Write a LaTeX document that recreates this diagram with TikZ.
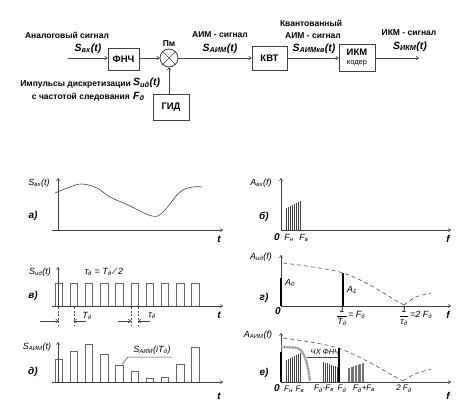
\documentclass[tikz,border=0pt]{standalone}
\usepackage{fontspec}
\setmainfont{Liberation Sans}
\usetikzlibrary{arrows.meta}
\newcommand\sbs[1]{\textsubscript{#1}}
\newcommand\fsym{\fontsize{10.5}{12}\selectfont\bfseries\itshape}
\newcommand\ftxt{\fontsize{8.5}{10}\selectfont\bfseries}
\newcommand\fblk{\fontsize{9.5}{11}\selectfont\bfseries}
\newcommand\fgl{\fontsize{9}{10}\selectfont\itshape}
\newcommand\fglb{\fontsize{8}{9}\selectfont\itshape}
\newcommand\fax{\fontsize{10}{11}\selectfont\bfseries\itshape}
\newcommand\fsm{\fontsize{7.5}{9}\selectfont\itshape}
\begin{document}
\begin{tikzpicture}[x=1pt,y=-1pt,
  blk/.style={draw=black!75, line width=0.8pt, inner sep=0pt, font=\fblk},
  arr/.style={-{To[length=3pt,width=4pt]}, line width=0.6pt, draw=black!75},
  axis/.style={-{To[length=3pt,width=3.5pt]}, line width=0.6pt, draw=black!75},
  pulse/.style={draw=black!60, line width=0.7pt},
  env/.style={draw=black!70, line width=0.6pt, dash pattern=on 4pt off 3pt},
  spec/.style={draw=black, line width=2.2pt},
  hatch/.style={draw=black!75, line width=0.5pt},
  txt/.style={inner sep=0pt, font=\ftxt},
  sym/.style={inner sep=0pt, font=\fsym},
  gl/.style={inner sep=0pt, font=\fgl},
  glb/.style={inner sep=0pt, font=\fglb},
  ax/.style={inner sep=0pt, font=\fax},
  sm/.style={inner sep=0pt, font=\fsm}
]
\useasboundingbox (0,0) rectangle (462,404);

% ---------------- block diagram ----------------
\node[blk, minimum width=31pt, minimum height=22pt] (fnch) at (123.5,59) {ФНЧ};
\node[draw=black!75, line width=0.8pt, circle, minimum size=18pt, inner sep=0pt] (mult) at (169,58) {};
\draw[black!75, line width=0.7pt] (mult.45) -- (mult.225) (mult.135) -- (mult.315);
\node[blk, minimum width=35pt, minimum height=24pt] (kvt) at (269.5,58) {КВТ};
\node[blk, minimum width=36pt, minimum height=27pt, align=center] (ikm) at (357,57.5) {ИКМ\\[-2pt]{\fontsize{7.5}{8}\selectfont\mdseries кодер}};
\node[blk, minimum width=36pt, minimum height=26pt] (gid) at (171,107) {ГИД};
\coordinate (in) at (68,58);
\coordinate (out) at (419,58);

\draw[arr] (in) -- (fnch.west |- in);
\draw[arr] (fnch.east |- mult) -- (mult.west);
\draw[arr] (mult.east) -- (kvt.west |- mult);
\draw[arr] (kvt.east) -- (ikm.west |- kvt.east);
\draw[arr] (ikm.east |- out) -- (out);
\draw[arr] (mult.south |- gid.north) -- (mult.south);

\node[txt] (t1) at (67,35) {Аналоговый сигнал};
\node[sym] (t2) at (88,48.5) {S\sbs{вх}(t)};
\node[txt] (t3) at (169,44) {Пм};
\node[txt] (t4) at (220,35) {АИМ - сигнал};
\node[sym] (t5) at (220,48.5) {S\sbs{АИМ}(t)};
\node[txt] (t6) at (311,23.5) {Квантованный};
\node[txt] (t7) at (313,36) {АИМ - сигнал};
\node[sym] (t8) at (314,48.5) {S\sbs{АИМкв}(t)};
\node[txt] (t9) at (409,33) {ИКМ - сигнал};
\node[sym] (t10) at (410,46.5) {S\sbs{ИКМ}(t)};
\node[txt, anchor=east] (t11) at (131,84) {Импульсы дискретизации};
\node[sym, anchor=west] (t12) at (133,83) {S\sbs{uд}(t)};
\node[txt, anchor=east] (t13) at (130,97) {с частотой следования};
\node[sym, anchor=west] (t14) at (133,96.5) {F\sbs{д}};

% ---------------- graph a) ----------------
\draw[axis] (58,230) -- (58,178);
\draw[axis] (52,230) -- (223,230);
\node[ax] (at) at (219,239) {t};
\node[gl] (aS) at (39,183) {S\sbs{вх}(t)};
\node[ax] (aa) at (33,216) {а)};
\draw[black!75, line width=0.6pt] plot[smooth, tension=0.6] coordinates {(55,193) (70,187) (82,184) (97,188) (110,197) (128,205) (152,216) (163,212) (180,192) (193,187) (202,187)};

% ---------------- graph b) ----------------
\draw[axis] (281,230) -- (281,178);
\draw[axis] (281,230) -- (451,230);
\node[ax] (bf) at (448,239) {f};
\node[gl] (bA) at (261,183) {A\sbs{вх}(f)};
\node[ax] (bb) at (264,217) {б)};
\foreach \i in {0,...,7} \draw[hatch] ({286+2*\i},230) -- ({286+2*\i},{208-\i});
\node[ax] (b0) at (277,237.5) {0};
\node[gl] (bFn) at (289,238) {F\sbs{н}};
\node[gl] (bFv) at (304,238) {F\sbs{в}};

% ---------------- graph v) ----------------
\draw[axis] (58,306) -- (58,267);
\draw[axis] (52,306) -- (223,306);
\node[ax] (vt) at (219,315) {t};
\node[gl] (vS) at (40,272) {S\sbs{uд}(t)};
\node[gl] (vtau) at (104,272) {τ\sbs{д} = T\sbs{д} ⁄ 2};
\node[ax] (vv) at (33,296) {в)};
\foreach \i in {0,...,9}
  \draw[pulse] ({55+15.2*\i},306) -- ({55+15.2*\i},283) -- ({62.3+15.2*\i},283) -- ({62.3+15.2*\i},306);
\draw[black!70, line width=0.5pt, dash pattern=on 2pt off 1.5pt] (58.6,307) -- (58.6,325) (73.8,307) -- (73.8,325) (131,307) -- (131,325) (138.3,307) -- (138.3,325);
\draw[arr] (40,321) -- (58.6,321);
\draw[arr] (86,321) -- (73.8,321);
\draw[arr] (118,321) -- (131,321);
\draw[arr] (150,321) -- (138.3,321);
\node[gl] (vT) at (87,316) {T\sbs{д}};
\node[gl] (vtd) at (152,316) {τ\sbs{д}};

% ---------------- graph d) ----------------
\draw[axis] (58,382) -- (58,342);
\draw[axis] (52,382) -- (223,382);
\node[ax] (dt) at (219,396) {t};
\node[gl] (dS) at (37,347) {S\sbs{АИМ}(t)};
\node[ax] (dd) at (33,372) {д)};
\foreach \h [count=\i from 0] in {359,351,344,354,365,371,378,377,364,347}
  \draw[pulse] ({55+15.2*\i},382) -- ({55+15.2*\i},\h) -- ({62.3+15.2*\i},\h) -- ({62.3+15.2*\i},382);
\node[gl] (dSi) at (152,350) {S\sbs{АИМ}(iT\sbs{д})};
\draw[black!75, line width=0.5pt] (122,364) -- (128,357) -- (172,357);

% ---------------- graph g) ----------------
\draw[axis] (281,306) -- (281,255);
\draw[axis] (281,306) -- (451,306);
\node[ax] (gf) at (448,315) {f};
\node[gl] (gA) at (261,257) {A\sbs{uд}(f)};
\node[ax] (gg) at (264,298) {г)};
\draw[spec] (281,306) -- (281,278);
\draw[spec] (343,306) -- (343,273);
\draw[env] plot[smooth, tension=0.6] coordinates {(283,263) (313,267) (343,273) (370,285) (395,300) (404,305)};
\draw[env] plot[smooth, tension=0.6] coordinates {(404,305) (416,297) (431,293)};
\node[gl] (gA0) at (290,283) {A\sbs{0}};
\node[gl] (gA1) at (352,290) {A\sbs{1}};
\node[ax] (g0) at (278,311) {0};
\node[gl] (gfr1) at (342,316) {$\displaystyle\frac{\mbox{\fgl 1}}{\mbox{\fgl T\sbs{д}}}$};
\node[gl, anchor=west] (gfr1b) at (348,315) {= F\sbs{д}};
\node[gl] (gfr2) at (404,316) {$\displaystyle\frac{\mbox{\fgl 1}}{\mbox{\fgl τ\sbs{д}}}$};
\node[gl, anchor=west] (gfr2b) at (410,315) {=2 F\sbs{д}};

% ---------------- graph e) ----------------
\draw[axis] (281,382) -- (281,333);
\draw[axis] (281,382) -- (451,382);
\node[ax] (ef) at (448,396) {f};
\node[gl] (eA) at (258,335) {A\sbs{АИМ}(f)};
\node[ax] (ee) at (264,373) {е)};
\draw[env] plot[smooth, tension=0.6] coordinates {(283,338) (310,342) (338,348) (365,360) (392,375) (403,381)};
\draw[env] plot[smooth, tension=0.6] coordinates {(403,381) (415,374) (431,369)};
\draw[gray!45, line width=2.6pt] (281,347) -- (295,347.5) .. controls (304,348.5) and (307,360) .. (310,381);
\draw[black!55, line width=1.4pt, dash pattern=on 0.6pt off 1pt] (281,347) -- (295,347.5) .. controls (304,348.5) and (307,360) .. (310,381);
\foreach \i in {0,...,7} \draw[hatch] ({286+2*\i},382) -- ({286+2*\i},{360-\i});
\foreach \i in {0,...,7} \draw[hatch] ({323+2*\i},382) -- ({323+2*\i},{362+0.7*\i});
\foreach \i in {0,...,11} \draw[draw=black!55, line width=0.6pt] ({348+1.4*\i},382) -- ({348+1.4*\i},{368-0.5*\i});
\draw[spec] (281,382) -- (281,352);
\draw[spec] (339,382) -- (339,348);
\draw[black!75, line width=0.5pt] (307,357) -- (338,357);
\node[sm] (echx) at (325,352) {ЧХ ФНЧ};
\node[ax] (e0) at (277,388) {0};
\node[glb] (eFn) at (288.5,389) {F\sbs{н}};
\node[glb] (eFv) at (300,389) {F\sbs{в}};
\node[glb] (eFm) at (324,389) {F\sbs{д}-F\sbs{в}};
\node[glb] (eFd) at (342,389) {F\sbs{д}};
\node[glb] (eFp) at (364,389) {F\sbs{д}+F\sbs{в}};
\node[glb] (e2F) at (404,389) {2 F\sbs{д}};
\end{tikzpicture}
\end{document}
